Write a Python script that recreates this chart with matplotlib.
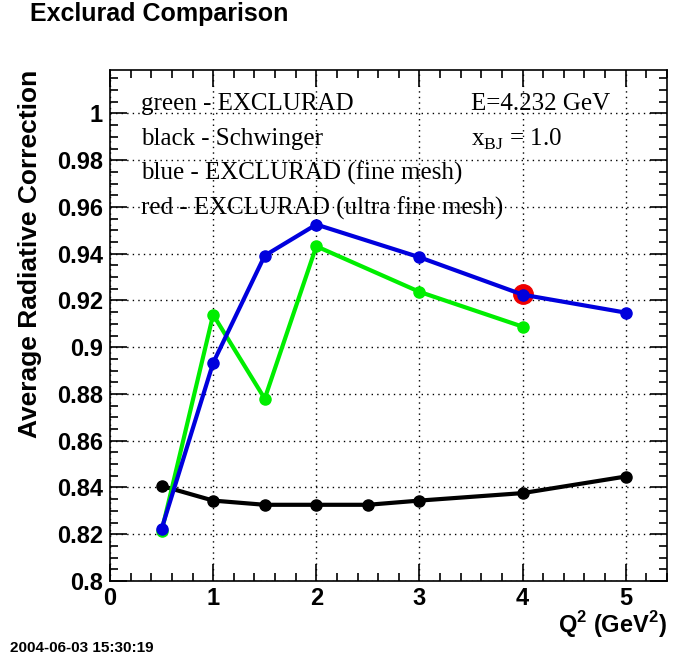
import matplotlib
matplotlib.use("Agg")
import matplotlib.pyplot as plt
from matplotlib.ticker import MultipleLocator

plt.rcParams['mathtext.fontset'] = 'custom'
plt.rcParams['mathtext.rm'] = 'Liberation Serif'
plt.rcParams['mathtext.bf'] = 'Liberation Sans:bold'

# Data
q2_black = [0.5, 1.0, 1.5, 2.0, 2.5, 3.0, 4.0, 5.0]
rc_black = [0.8407, 0.8344, 0.8326, 0.8326, 0.8326, 0.8344, 0.8376, 0.8447]
q2_blue = [0.5, 1.0, 1.5, 2.0, 3.0, 4.0, 5.0]
rc_blue = [0.8223, 0.8933, 0.9392, 0.9525, 0.9385, 0.9225, 0.9148]
q2_green = [0.5, 1.0, 1.5, 2.0, 3.0, 4.0]
rc_green = [0.8212, 0.9139, 0.8780, 0.9432, 0.9237, 0.9088]
q2_red = [4.0]
rc_red = [0.9228]

legend_lines = ["green - EXCLURAD", "black - Schwinger",
                "blue - EXCLURAD (fine mesh)", "red - EXCLURAD (ultra fine mesh)"]

W, H = 675, 664
fig = plt.figure(figsize=(W/100, H/100), dpi=100)
ax = fig.add_axes([110/W, 1-581/H, (667-110)/W, (581-70)/H])

ax.plot(q2_black, rc_black, '-o', color='black', lw=3, ms=8, zorder=3)
ax.plot(q2_green, rc_green, '-o', color='#00ee00', lw=3, ms=8, zorder=4)
ax.plot(q2_red, rc_red, 'o', color='#ee0000', ms=14, zorder=5)
ax.plot(q2_blue, rc_blue, '-o', color='#0000dd', lw=3, ms=8, zorder=6)

ax.set_xlim(0, 5.4)
ax.set_ylim(0.8, 1.0186)
ax.xaxis.set_minor_locator(MultipleLocator(0.2))
ax.yaxis.set_minor_locator(MultipleLocator(0.005))
ax.set_yticks([0.8, 0.82, 0.84, 0.86, 0.88, 0.9, 0.92, 0.94, 0.96, 0.98, 1.0])
ax.set_yticklabels(["0.8", "0.82", "0.84", "0.86", "0.88", "0.9", "0.92", "0.94", "0.96", "0.98", "1"])
ax.set_xticks([0, 1, 2, 3, 4, 5])
ax.set_xticklabels(["0", "1", "2", "3", "4", "5"])
ax.tick_params(which='both', direction='in', top=True, right=True, width=1.2)
ax.tick_params(which='major', length=12)
ax.tick_params(which='minor', length=6)
ax.tick_params(axis='both', labelsize=17)
ax.tick_params(axis='y', pad=5)
ax.tick_params(axis='x', pad=4)
for lab in ax.get_xticklabels() + ax.get_yticklabels():
    lab.set_fontweight('bold')
    lab.set_fontfamily('Liberation Sans')
for s in ax.spines.values():
    s.set_linewidth(1.2)
ax.grid(True, which='major', color='black', linestyle=(0, (1, 3)), lw=1.0)

ax.set_ylabel("Average Radiative Correction", fontsize=19, fontweight='bold',
              family='Liberation Sans')
ax.yaxis.set_label_coords(-0.122, 0.64)
fig.text(667/W, 1-625/H, r"Q$^\mathbf{2}$ (GeV$^\mathbf{2}$)", ha='right', va='center',
         fontsize=17, fontweight='bold', family='Liberation Sans')

ys = [1.0041, 0.9891, 0.9744, 0.9593]
for t, y in zip(legend_lines, ys):
    ax.text(0.30, y, t, fontsize=18, family='Liberation Serif', va='center', zorder=2)
ax.text(3.5, 1.0041, "E=4.232 GeV", fontsize=18, family='Liberation Serif', va='center')
ax.text(3.5, 0.9891, r"x$_{\mathrm{BJ}}$ = 1.0", fontsize=18, family='Liberation Serif', va='center')

fig.text(30/W, 1-14/H, "Exclurad Comparison", fontsize=18, fontweight='bold',
         family='Liberation Sans', va='center', ha='left')
fig.text(10/W, 1-648/H, "2004-06-03 15:30:19", fontsize=11, fontweight='bold',
         family='Liberation Sans', va='center', ha='left')

fig.savefig("out.png", dpi=100)
